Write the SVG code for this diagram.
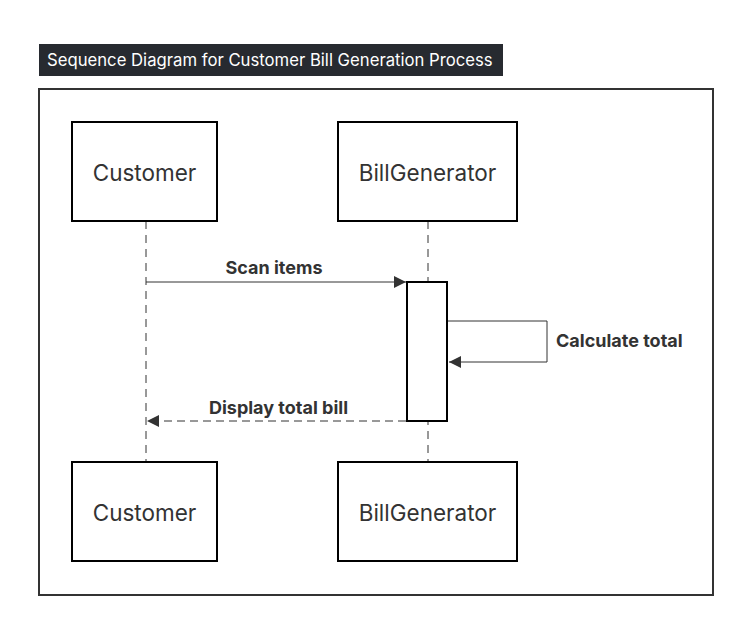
<svg xmlns="http://www.w3.org/2000/svg" width="754" height="634" viewBox="0 0 754 634">
<style>
.box{fill:#fff;stroke:#000;stroke-width:2}
.name{font-family:Inter,"Liberation Sans",sans-serif;font-size:22.5px;fill:#333;text-anchor:middle}
.lbl{font-family:Inter,"Liberation Sans",sans-serif;font-size:18px;font-weight:bold;fill:#333}
.life{stroke:#333;stroke-width:1;stroke-dasharray:8 6;fill:none}
.msg{stroke:#333;stroke-width:1;fill:none}
</style>
<defs>
<marker id="ah" viewBox="0 0 10 10" refX="10" refY="5" markerWidth="16" markerHeight="12" markerUnits="userSpaceOnUse" orient="auto">
<path d="M0,0L10,5L0,10z" fill="#333"/>
</marker>
</defs>
<rect width="754" height="634" fill="#fff"/>
<g id="title">
<rect x="39" y="44" width="464" height="32" fill="#272a30"/>
<text x="47" y="66" font-family="Inter,'Liberation Sans',sans-serif" font-size="16.7" fill="#fff">Sequence Diagram for Customer Bill Generation Process</text>
</g>
<rect x="39" y="89" width="674" height="506" fill="none" stroke="#333" stroke-width="2"/>
<g id="lifelines">
<line class="life" x1="146" y1="221" x2="146" y2="462"/>
<line class="life" x1="428" y1="221" x2="428" y2="462"/>
</g>
<g id="customer-top"><rect class="box" x="72" y="122" width="145" height="99"/><text class="name" x="144.5" y="181">Customer</text></g>
<g id="billgen-top"><rect class="box" x="338" y="122" width="179" height="99"/><text class="name" x="427.5" y="181">BillGenerator</text></g>
<g id="customer-bottom"><rect class="box" x="72" y="462" width="145" height="99"/><text class="name" x="144.5" y="521">Customer</text></g>
<g id="billgen-bottom"><rect class="box" x="338" y="462" width="179" height="99"/><text class="name" x="427.5" y="521">BillGenerator</text></g>
<g id="activation"><rect class="box" x="407" y="282" width="40" height="139"/></g>
<g id="connectors">
<line class="msg" x1="146" y1="282" x2="406" y2="282" marker-end="url(#ah)"/>
<polyline class="msg" points="448,321 547,321 547,362 449,362" marker-end="url(#ah)"/>
<line class="msg" x1="406" y1="421" x2="147" y2="421" stroke-dasharray="8 5" marker-end="url(#ah)"/>
</g>
<g id="labels">
<text class="lbl" x="274" y="274" text-anchor="middle">Scan items</text>
<text class="lbl" x="556" y="347">Calculate total</text>
<text class="lbl" x="278.5" y="414" text-anchor="middle">Display total bill</text>
</g>
</svg>
